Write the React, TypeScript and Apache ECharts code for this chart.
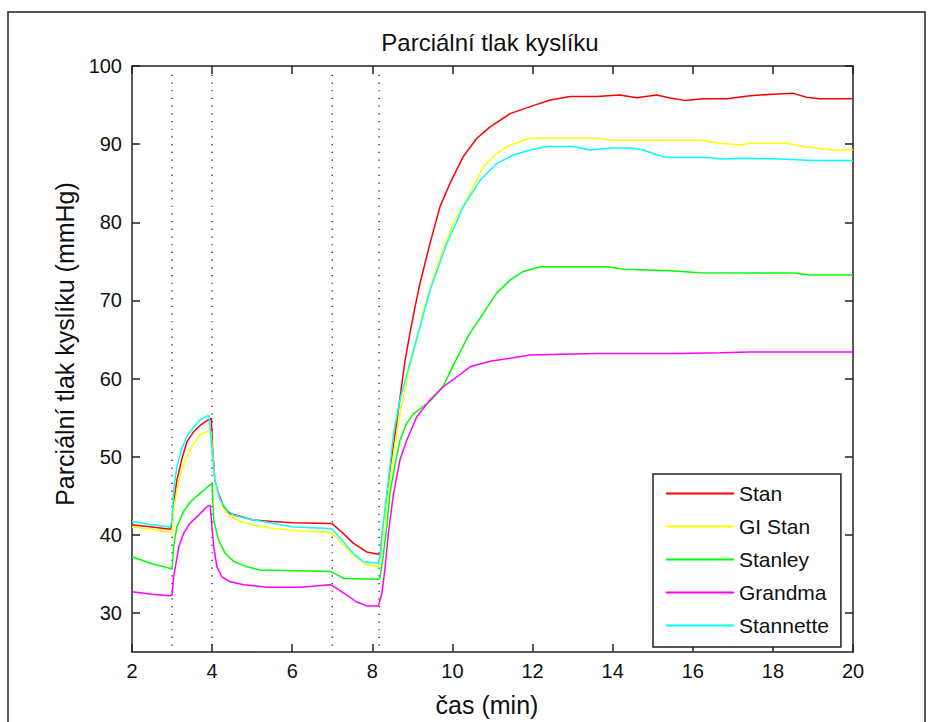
import React, { useEffect, useRef } from 'react';
import * as echarts from 'echarts';

const FONT = '"Liberation Sans", Arial, Helvetica, sans-serif';

const titleText = 'Parciální tlak kyslíku';
const xLabel = 'čas (min)';
const yLabel = 'Parciální tlak kyslíku (mmHg)';

const seriesNames = ['Stan', 'GI Stan', 'Stanley', 'Grandma', 'Stannette'];
const seriesColors = ['#ff0000', '#ffff00', '#00ff00', '#ff00ff', '#00ffff'];

const yTicks = [30, 40, 50, 60, 70, 80, 90, 100];
const eventTimes = [3, 4, 7, 8.17];

const stan: number[][] = [
  [2.0, 41.3], [2.5, 41.0], [2.95, 40.7], [3.0, 41.2], [3.03, 43.6], [3.12, 47.0], [3.25, 49.8],
  [3.37, 51.9], [3.54, 53.2], [3.7, 54.0], [3.87, 54.6], [3.98, 54.9], [4.01, 51.3], [4.07, 47.0],
  [4.16, 45.3], [4.29, 43.6], [4.45, 42.7], [4.54, 42.6], [5.03, 41.9], [5.5, 41.7], [6.03, 41.55],
  [6.95, 41.45], [7.0, 41.4], [7.25, 40.3], [7.53, 38.9], [7.86, 37.8], [8.15, 37.5], [8.2, 37.6],
  [8.25, 40.0], [8.32, 42.7], [8.4, 46.2], [8.48, 49.6], [8.57, 53.0], [8.65, 56.0], [8.74, 59.4],
  [8.82, 62.4], [8.94, 65.8], [9.06, 69.0], [9.19, 72.2], [9.44, 77.3], [9.69, 82.0], [9.94, 85.0],
  [10.27, 88.4], [10.61, 90.75], [10.94, 92.2], [11.44, 93.9], [11.94, 94.8], [12.44, 95.65],
  [12.94, 96.1], [13.6, 96.1], [14.18, 96.3], [14.6, 95.95], [15.1, 96.3], [15.43, 95.9], [15.8, 95.6],
  [16.26, 95.8], [16.85, 95.8], [17.43, 96.2], [18.0, 96.4], [18.51, 96.5], [18.84, 96.0],
  [19.17, 95.8], [20, 95.8],
];

const giStan: number[][] = [
  [2.0, 41.0], [2.5, 40.7], [2.95, 40.3], [3.0, 40.4], [3.05, 43.6], [3.17, 47.0], [3.33, 49.6],
  [3.54, 51.7], [3.7, 52.8], [3.87, 53.2], [3.97, 53.2], [4.04, 48.7], [4.12, 45.7], [4.25, 43.6],
  [4.41, 42.5], [4.7, 41.7], [5.03, 41.25], [5.53, 40.8], [6.2, 40.5], [6.95, 40.3], [7.0, 40.2],
  [7.53, 37.4], [7.8, 36.3], [8.15, 35.9], [8.22, 38.0], [8.3, 41.5], [8.4, 45.5], [8.5, 49.3],
  [8.57, 51.7], [8.7, 55.8], [8.94, 61.5], [9.28, 68.8], [9.61, 74.3], [10.02, 79.9], [10.44, 83.7],
  [10.77, 87.1], [11.1, 88.8], [11.44, 89.9], [11.94, 90.75], [12.77, 90.75], [13.6, 90.75],
  [14.0, 90.5], [14.6, 90.5], [16.19, 90.5], [16.69, 90.1], [17.19, 89.9], [17.43, 90.1],
  [18.34, 90.1], [18.76, 89.7], [19.5, 89.25], [20, 89.25],
];

const stanley: number[][] = [
  [2.0, 37.2], [2.5, 36.3], [2.95, 35.7], [3.0, 35.6], [3.04, 38.5], [3.12, 41.0], [3.29, 43.0],
  [3.45, 44.2], [3.7, 45.3], [3.95, 46.4], [4.0, 46.5], [4.04, 41.9], [4.16, 39.3], [4.33, 37.6],
  [4.54, 36.6], [4.87, 35.9], [5.2, 35.5], [6.2, 35.4], [6.95, 35.3], [7.0, 35.2], [7.3, 34.4],
  [8.17, 34.3], [8.19, 34.4], [8.28, 37.6], [8.36, 41.0], [8.44, 45.3], [8.57, 49.1], [8.69, 52.1],
  [8.86, 54.3], [9.03, 55.5], [9.11, 55.8], [9.44, 57.1], [9.77, 59.0], [10.05, 62.0], [10.4, 65.5],
  [10.7, 67.8], [11.1, 70.9], [11.44, 72.6], [11.77, 73.7], [12.19, 74.3], [13.85, 74.3],
  [14.27, 74.0], [15.43, 73.8], [16.19, 73.55], [18.51, 73.5], [18.93, 73.25], [20, 73.25],
];

const grandma: number[][] = [
  [2.0, 32.7], [2.5, 32.4], [2.95, 32.2], [3.0, 32.3], [3.04, 34.6], [3.17, 38.5], [3.29, 40.2],
  [3.45, 41.5], [3.7, 42.7], [3.87, 43.6], [3.95, 43.8], [4.04, 38.5], [4.12, 35.9], [4.25, 34.6],
  [4.45, 34.0], [4.79, 33.6], [5.37, 33.3], [6.2, 33.3], [6.95, 33.6], [7.0, 33.5], [7.3, 32.5],
  [7.61, 31.4], [7.86, 30.9], [8.15, 30.9], [8.24, 32.5], [8.32, 35.9], [8.4, 40.2], [8.53, 45.3],
  [8.69, 49.6], [8.86, 52.1], [9.11, 55.1], [9.44, 57.25], [9.77, 58.95], [10.11, 60.2],
  [10.44, 61.5], [10.94, 62.2], [11.94, 63.0], [12.77, 63.1], [13.6, 63.2], [15.68, 63.2],
  [16.69, 63.3], [17.43, 63.4], [20, 63.4],
];

const stannette: number[][] = [
  [2.0, 41.7], [2.5, 41.3], [2.95, 41.0], [3.0, 41.9], [3.04, 45.7], [3.12, 48.7], [3.25, 51.1],
  [3.37, 52.6], [3.54, 53.8], [3.7, 54.7], [3.87, 55.2], [3.92, 55.3], [4.01, 50.0], [4.07, 47.0],
  [4.2, 44.45], [4.37, 43.2], [4.54, 42.5], [5.03, 41.9], [6.03, 41.0], [6.95, 40.8], [7.0, 40.7],
  [7.53, 37.6], [7.78, 36.55], [8.15, 36.35], [8.2, 37.5], [8.25, 40.5], [8.32, 43.5], [8.4, 47.0],
  [8.53, 53.0], [8.7, 57.5], [9.03, 63.65], [9.44, 71.3], [9.86, 77.3], [10.27, 82.0], [10.69, 85.4],
  [11.1, 87.5], [11.52, 88.6], [11.94, 89.25], [12.35, 89.7], [13.02, 89.7], [13.43, 89.25],
  [14.0, 89.5], [14.44, 89.5], [14.77, 89.25], [15.01, 88.8], [15.26, 88.4], [15.51, 88.3],
  [16.43, 88.3], [16.69, 88.1], [17.27, 88.2], [18.18, 88.1], [19.0, 87.9], [20, 87.9],
];

const allSeries = [stan, giStan, stanley, grandma, stannette];

export default function App() {
  const ref = useRef<HTMLDivElement>(null);

  useEffect(() => {
    if (!ref.current) return;
    const chart = echarts.init(ref.current, undefined, { renderer: 'svg' });
    const axisColor = '#222';
    const baseAxis = {
      axisLine: { show: true, onZero: false, lineStyle: { color: axisColor, width: 1.5 } },
      axisTick: { show: true, inside: true, length: 8, lineStyle: { color: axisColor, width: 1.5 } },
      splitLine: { show: false },
    };

    const lineSeries = allSeries.map((d, i) => ({
      name: seriesNames[i],
      type: 'line',
      data: d,
      xAxisIndex: 0,
      yAxisIndex: 0,
      showSymbol: false,
      symbol: 'none',
      lineStyle: { color: seriesColors[i], width: 1.5 },
      itemStyle: { color: seriesColors[i] },
      z: 3 + i,
    }));

    const eventSeries = eventTimes.map((t) => ({
      name: 'event' + t,
      type: 'line',
      data: [[t, 25.8], [t, 99.2]],
      xAxisIndex: 0,
      yAxisIndex: 0,
      showSymbol: false,
      symbol: 'none',
      silent: true,
      lineStyle: { color: '#333', width: 1.5, type: [1.2, 6.5] },
      z: 2,
    }));

    chart.setOption({
      animation: false,
      backgroundColor: '#ffffff',
      title: {
        text: titleText,
        left: 490,
        top: 30,
        textAlign: 'center',
        padding: 0,
        textStyle: { fontFamily: FONT, fontSize: 24, fontWeight: 'normal', color: '#111' },
      },
      grid: { left: 132, top: 66, width: 721, height: 586, containLabel: false },
      xAxis: [
        {
          type: 'value', min: 2, max: 20, interval: 2, position: 'bottom',
          ...baseAxis,
          axisLabel: { show: true, margin: 9, fontFamily: FONT, fontSize: 20, color: '#111' },
        },
        {
          type: 'value', min: 2, max: 20, interval: 2, position: 'top',
          ...baseAxis,
          axisLabel: { show: false },
        },
      ],
      yAxis: [
        {
          type: 'value', min: 25, max: 100, position: 'left',
          ...baseAxis,
          axisTick: { ...baseAxis.axisTick, customValues: yTicks },
          axisLabel: { show: true, margin: 10, fontFamily: FONT, fontSize: 20, color: '#111', customValues: yTicks },
        },
        {
          type: 'value', min: 25, max: 100, position: 'right',
          ...baseAxis,
          axisTick: { ...baseAxis.axisTick, customValues: yTicks },
          axisLabel: { show: false },
        },
      ],
      legend: {
        data: seriesNames,
        orient: 'vertical',
        left: 653,
        top: 474,
        padding: [9, 12, 11, 13],
        itemGap: 12,
        itemWidth: 68,
        itemHeight: 2,
        icon: 'rect',
        backgroundColor: '#ffffff',
        borderColor: axisColor,
        borderWidth: 1.5,
        borderRadius: 0,
        selectedMode: false,
        textStyle: { fontFamily: FONT, fontSize: 21, color: '#111', lineHeight: 20 },
      },
      graphic: [
        {
          type: 'rect',
          silent: true,
          shape: { x: 8, y: 12, width: 917, height: 720 },
          style: { fill: 'none', stroke: axisColor, lineWidth: 1.5 },
          z: 0,
        },
        {
          type: 'text',
          x: 487,
          y: 705,
          style: {
            text: xLabel, fontFamily: FONT, fontSize: 25, fill: '#111',
            textAlign: 'center', textVerticalAlign: 'middle',
          },
        },
        {
          type: 'text',
          x: 65,
          y: 344,
          rotation: Math.PI / 2,
          style: {
            text: yLabel, fontFamily: FONT, fontSize: 25, fill: '#111',
            textAlign: 'center', textVerticalAlign: 'middle',
          },
        },
      ],
      series: [...eventSeries, ...lineSeries],
    });

    return () => chart.dispose();
  }, []);

  return (
    <div
      ref={ref}
      style={{ position: 'fixed', left: 0, top: 0, width: 931, height: 722, background: '#fff' }}
    />
  );
}
